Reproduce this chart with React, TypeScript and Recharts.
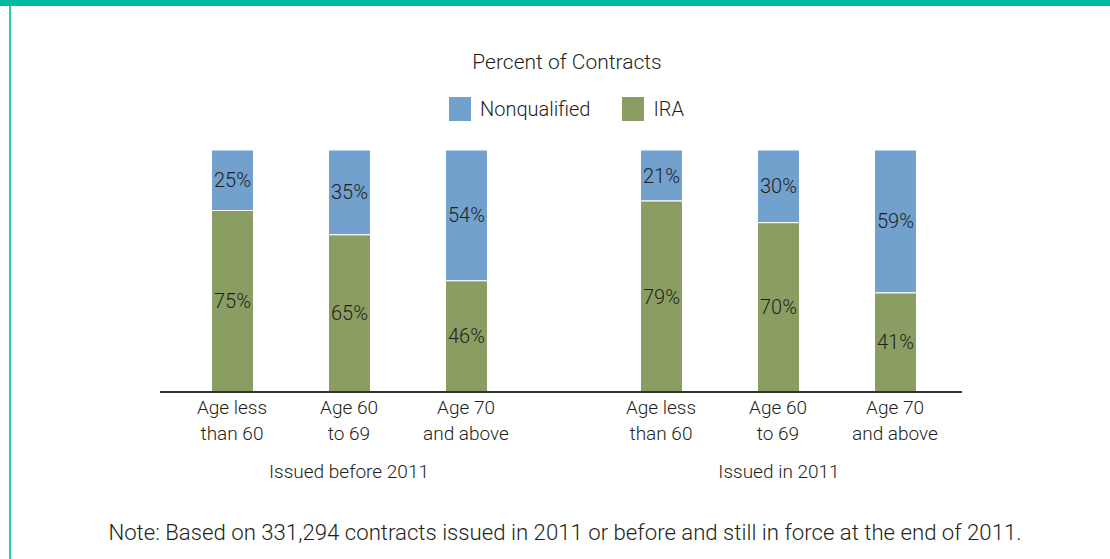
import { BarChart, Bar, XAxis, YAxis, LabelList } from "recharts";

const ageGroups = ["Age less|than 60", "Age 60|to 69", "Age 70|and above"];
const groupNames = ["Issued before 2011", "Issued in 2011"];
const iraBefore = [75, 65, 46];
const nonqBefore = [25, 35, 54];
const iraIn2011 = [79, 70, 41];
const nonqIn2011 = [21, 30, 59];

const series = [
  { key: "nonq", name: "Nonqualified", color: "#72a1cd" },
  { key: "ira", name: "IRA", color: "#8a9e64" },
];

const FONT = "Roboto, 'Liberation Sans', sans-serif";
const TEXT = "#231f20";

const toRows = (ira: number[], nonq: number[]) =>
  ageGroups.map((age, i) => ({ age, ira: ira[i], nonq: nonq[i] }));

function AgeTick({ x, y, payload }: any) {
  const [a, b] = String(payload.value).split("|");
  return (
    <text x={x} y={y} textAnchor="middle" fill={TEXT} fontSize={19} fontWeight={300} fontFamily={FONT}>
      <tspan x={x} dy={14}>{a}</tspan>
      <tspan x={x} dy={26}>{b}</tspan>
    </text>
  );
}

function Group({
  rows,
  width,
  padding,
}: {
  rows: { age: string; ira: number; nonq: number }[];
  width: number;
  padding: { left: number; right: number };
}) {
  return (
    <BarChart
      width={width}
      height={320}
      data={rows}
      margin={{ top: 10, right: 0, bottom: 0, left: 0 }}
    >
      <XAxis
        dataKey="age"
        tickLine={false}
        axisLine={{ stroke: "#333", strokeWidth: 2 }}
        tick={<AgeTick />}
        interval={0}
        height={68}
        padding={padding}
      />
      <YAxis hide domain={[0, 100]} />
      <Bar dataKey="ira" stackId="a" fill="#8a9e64" barSize={42} stroke="#fff" strokeWidth={1} isAnimationActive={false}>
        <LabelList dataKey="ira" position="center" formatter={(v: any) => `${v}%`} fill={TEXT} fontSize={20} fontWeight={300} fontFamily={FONT} />
      </Bar>
      <Bar dataKey="nonq" stackId="a" fill="#72a1cd" barSize={42} stroke="#fff" strokeWidth={1} isAnimationActive={false}>
        <LabelList dataKey="nonq" position="center" formatter={(v: any) => `${v}%`} fill={TEXT} fontSize={20} fontWeight={300} fontFamily={FONT} />
      </Bar>
    </BarChart>
  );
}

export default function App() {
  return (
    <div
      style={{
        position: "absolute",
        left: 0,
        top: 0,
        width: 1110,
        height: 559,
        background: "#fff",
        fontFamily: FONT,
        fontWeight: 300,
        color: TEXT,
        overflow: "hidden",
      }}
    >
      <div style={{ position: "absolute", left: 0, top: 0, width: 1110, height: 6, background: "#00bb9f" }} />
      <div style={{ position: "absolute", left: 9, top: 6, width: 2, height: 553, background: "#33c7ae" }} />

      <div style={{ position: "absolute", left: 0, width: 1134, top: 50, textAlign: "center", fontSize: 21 }}>
        Percent of Contracts
      </div>

      <div style={{ position: "absolute", left: 449, top: 97, display: "flex", alignItems: "center", fontSize: 20 }}>
        {series.map((s, i) => (
          <div key={s.key} style={{ display: "flex", alignItems: "center", marginRight: i === 0 ? 32 : 0 }}>
            <div style={{ width: 22, height: 24, background: s.color, marginRight: 9 }} />
            <span>{s.name}</span>
          </div>
        ))}
      </div>

      <div style={{ position: "absolute", left: 160, top: 140 }}>
        <Group rows={toRows(iraBefore, nonqBefore)} width={403} padding={{ left: 13.5, right: 38.5 }} />
      </div>
      <div style={{ position: "absolute", left: 563, top: 140 }}>
        <Group rows={toRows(iraIn2011, nonqIn2011)} width={399} padding={{ left: 39.5, right: 8.5 }} />
      </div>

      <div style={{ position: "absolute", left: 249, width: 200, top: 460, textAlign: "center", fontSize: 19 }}>
        {groupNames[0]}
      </div>
      <div style={{ position: "absolute", left: 679, width: 200, top: 460, textAlign: "center", fontSize: 19 }}>
        {groupNames[1]}
      </div>

      <div style={{ position: "absolute", left: 0, width: 1130, top: 519, textAlign: "center", fontSize: 22.2 }}>
        Note: Based on 331,294 contracts issued in 2011 or before and still in force at the end of 2011.
      </div>
    </div>
  );
}
